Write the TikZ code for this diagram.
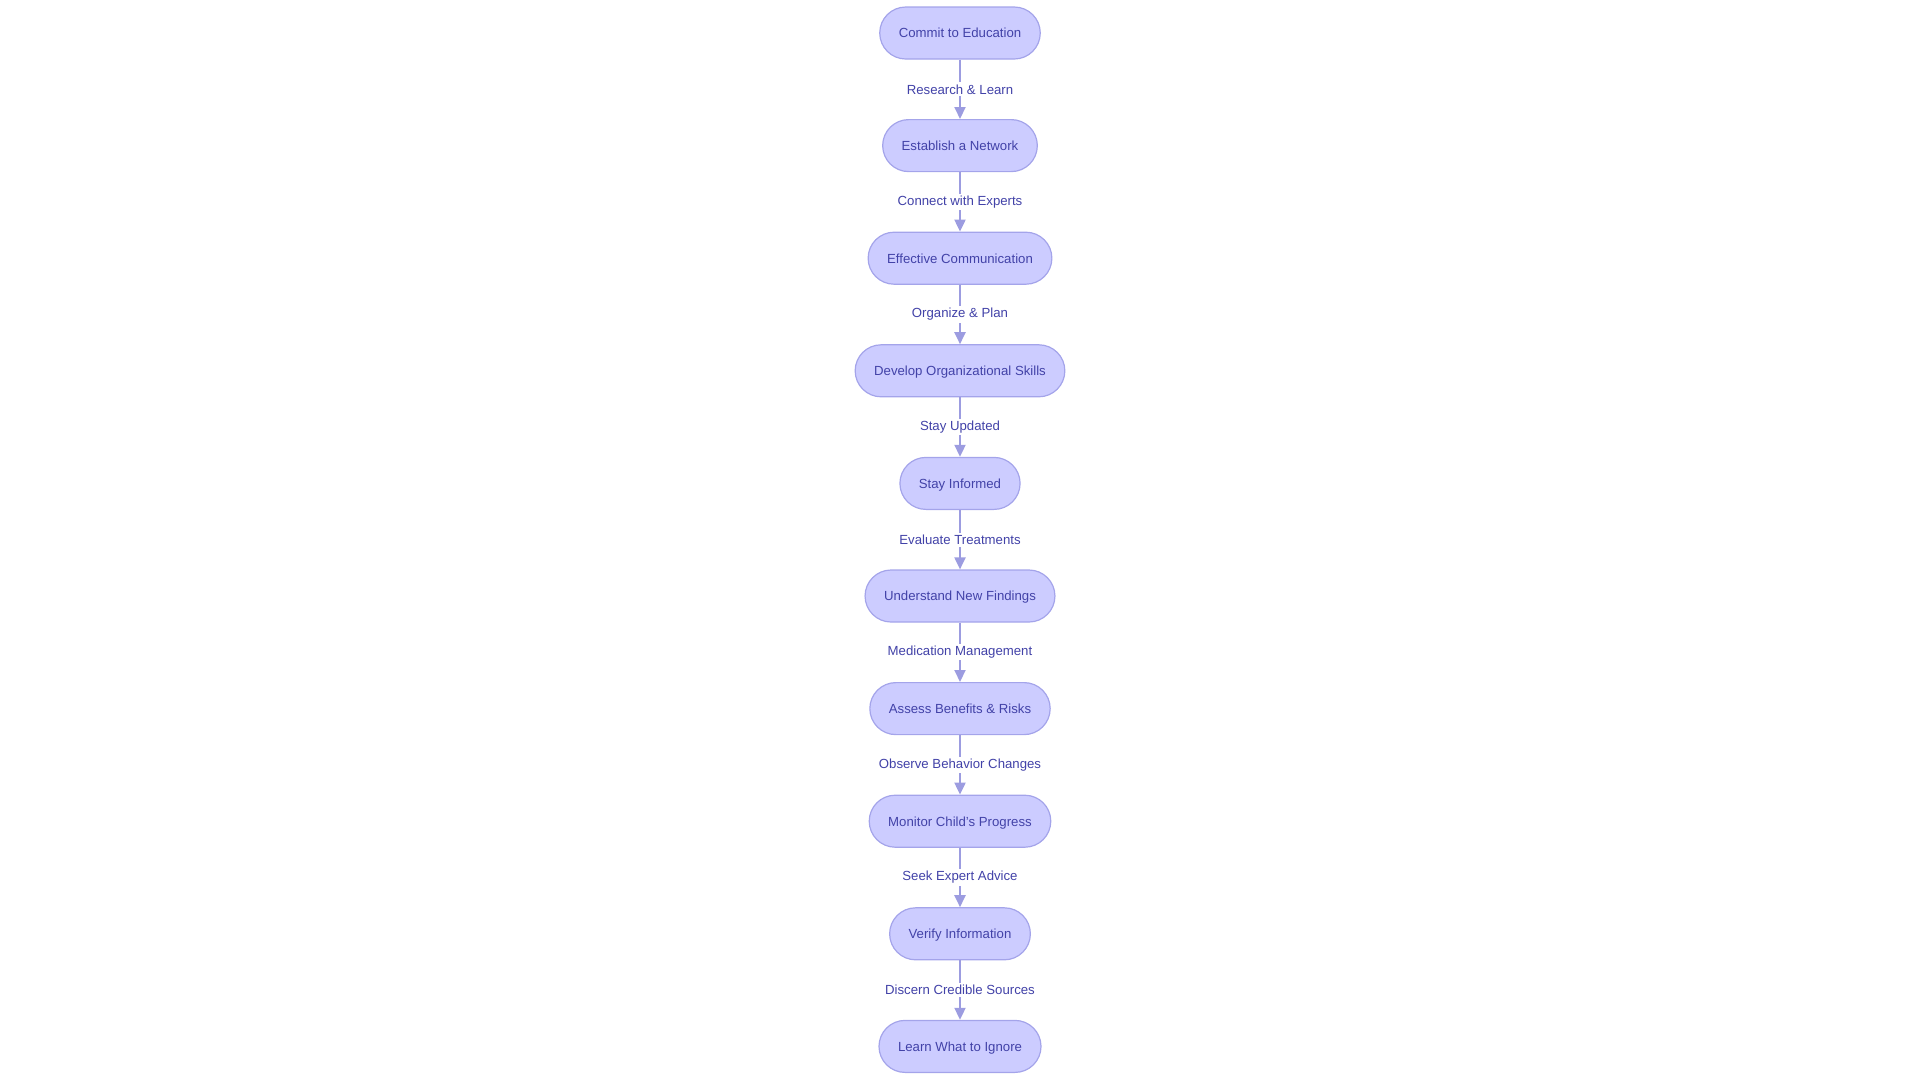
\documentclass[tikz,border=0pt]{standalone}
\usepackage{fontspec}
\setmainfont{Liberation Sans}
\usepackage{tikz}
\usetikzlibrary{arrows.meta}

\definecolor{boxfill}{HTML}{CCCCFF}
\definecolor{boxline}{HTML}{A4A4EA}
\definecolor{flowline}{HTML}{9C9CE0}
\definecolor{boxtext}{HTML}{4242A8}

\tikzset{
  stage/.style = {draw=boxline, line width=1.2pt, fill=boxfill, text=boxtext,
    rounded corners=26pt, minimum height=52pt, inner xsep=19pt,
    text height=11pt, text depth=1.4pt,
    font=\fontsize{13.2}{16}\selectfont},
  flow/.style = {draw=flowline, line width=2pt,
    -{Triangle[length=12pt,width=11pt,color=flowline,fill=flowline]}},
  why/.style = {fill=white, text=boxtext, inner sep=2pt,
    font=\fontsize{13.2}{16}\selectfont}
}

\begin{document}
\begin{tikzpicture}[x=1pt, y=1pt, node distance = 112.6pt]

\useasboundingbox (0,0) rectangle (1920,-1080);

\node[stage] (1) at (960,-33) {Commit to Education};
\node[stage] (2) [below of = 1] {Establish a Network};
\node[stage] (3) [below of = 2] {Effective Communication};
\node[stage] (4) [below of = 3] {Develop Organizational Skills};
\node[stage] (5) [below of = 4] {Stay Informed};
\node[stage] (6) [below of = 5] {Understand New Findings};
\node[stage] (7) [below of = 6] {Assess Benefits \& Risks};
\node[stage] (8) [below of = 7] {Monitor Child's Progress};
\node[stage] (9) [below of = 8] {Verify Information};
\node[stage] (10) [below of = 9] {Learn What to Ignore};

\path (1) edge [flow] node [why] {Research \& Learn} (2)
    (2) edge [flow] node [why] {Connect with Experts} (3)
    (3) edge [flow] node [why] {Organize \& Plan} (4)
    (4) edge [flow] node [why] {Stay Updated} (5)
    (5) edge [flow] node [why] {Evaluate Treatments} (6)
    (6) edge [flow] node [why] {Medication Management} (7)
    (7) edge [flow] node [why] {Observe Behavior Changes} (8)
    (8) edge [flow] node [why] {Seek Expert Advice} (9)
    (9) edge [flow] node [why] {Discern Credible Sources} (10);
\end{tikzpicture}
\end{document}
